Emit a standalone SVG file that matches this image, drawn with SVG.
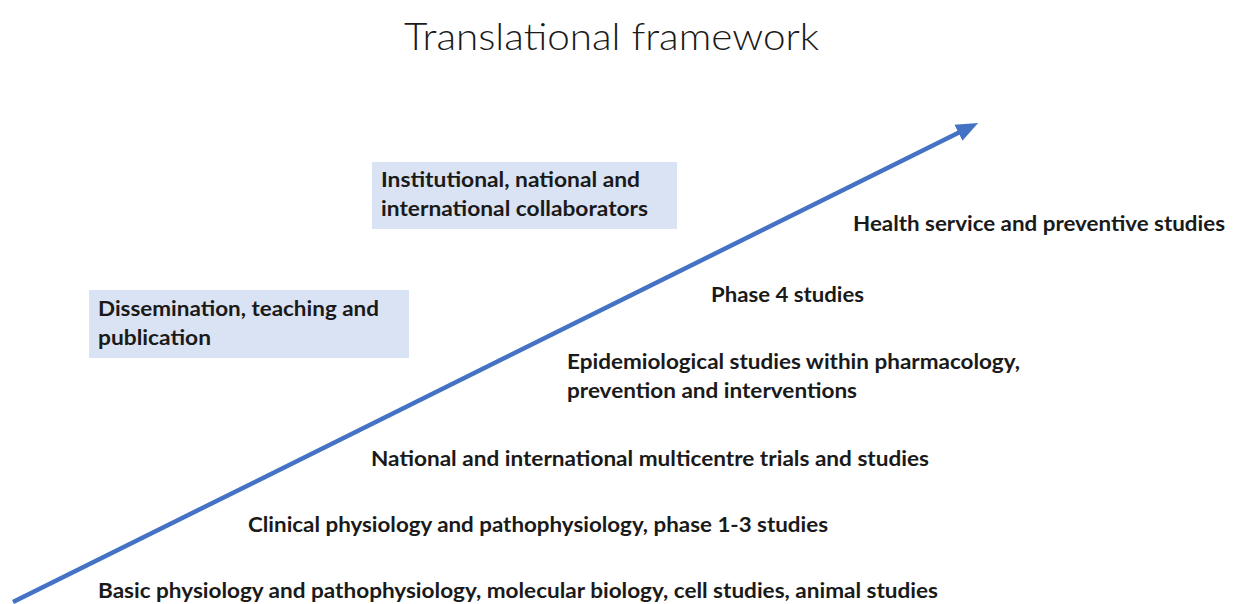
<svg xmlns="http://www.w3.org/2000/svg" width="1236" height="604" viewBox="0 0 1236 604">
<defs>
<style>
.t{font-family:Lato,"Open Sans","Liberation Sans",sans-serif;font-weight:700;font-size:21px;fill:#1a1a1a}
.title{font-family:Lato,"Open Sans","Liberation Sans",sans-serif;font-weight:300;font-size:37px;fill:#1a1a1a}
.box{fill:#dae3f3}
.arrow{stroke:#4472c4;stroke-width:4.5;fill:none}
</style>
<marker id="ah" markerUnits="userSpaceOnUse" markerWidth="24" markerHeight="20" viewBox="0 0 24 20" refX="4" refY="10" orient="auto">
<path d="M0,1 L22,10 L0,19 Z" fill="#4472c4"/>
</marker>
</defs>
<rect width="1236" height="604" fill="#ffffff"/>
<text class="title" x="404" y="50" textLength="415" lengthAdjust="spacingAndGlyphs">Translational framework</text>
<g id="connectors">
<path class="arrow" d="M13,602 L962,131" marker-end="url(#ah)"/>
</g>
<g id="collaborators">
<rect class="box" x="372" y="162" width="305" height="67"/>
<text class="t" x="381" y="187" textLength="259" lengthAdjust="spacingAndGlyphs">Institutional, national and</text>
<text class="t" x="381" y="216" textLength="267" lengthAdjust="spacingAndGlyphs">international collaborators</text>
</g>
<g id="dissemination">
<rect class="box" x="89" y="290" width="320" height="68"/>
<text class="t" x="98" y="316" textLength="281" lengthAdjust="spacingAndGlyphs">Dissemination, teaching and</text>
<text class="t" x="98" y="345" textLength="113" lengthAdjust="spacingAndGlyphs">publication</text>
</g>
<g id="health">
<text class="t" x="853" y="231" textLength="372" lengthAdjust="spacingAndGlyphs">Health service and preventive studies</text>
</g>
<g id="phase4">
<text class="t" x="711" y="302" textLength="153" lengthAdjust="spacingAndGlyphs">Phase 4 studies</text>
</g>
<g id="epidemiological">
<text class="t" x="567" y="369" textLength="453" lengthAdjust="spacingAndGlyphs">Epidemiological studies within pharmacology,</text>
<text class="t" x="567" y="398" textLength="290" lengthAdjust="spacingAndGlyphs">prevention and interventions</text>
</g>
<g id="multicentre">
<text class="t" x="371" y="466" textLength="558" lengthAdjust="spacingAndGlyphs">National and international multicentre trials and studies</text>
</g>
<g id="clinical">
<text class="t" x="248" y="532" textLength="580" lengthAdjust="spacingAndGlyphs">Clinical physiology and pathophysiology, phase 1-3 studies</text>
</g>
<g id="basic">
<text class="t" x="98" y="598" textLength="840" lengthAdjust="spacingAndGlyphs">Basic physiology and pathophysiology, molecular biology, cell studies, animal studies</text>
</g>
</svg>
